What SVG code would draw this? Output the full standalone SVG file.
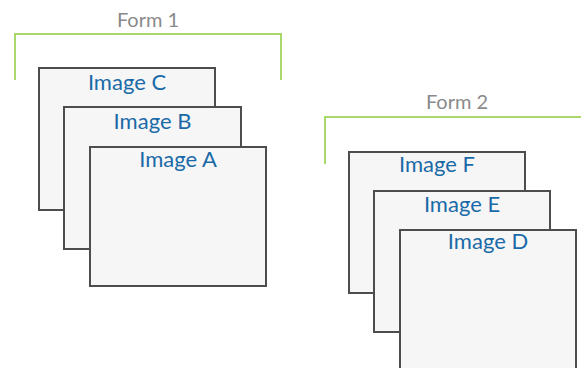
<svg xmlns="http://www.w3.org/2000/svg" width="581" height="368" viewBox="0 0 581 368">
<style>
.img rect{fill:#f6f6f6;stroke:#4d4d4d;stroke-width:2}
.img text{font-family:Lato,"Open Sans","Liberation Sans",sans-serif;font-size:22px;fill:#1a6aa8;text-anchor:middle}
.form path{fill:none;stroke:#a8d86a;stroke-width:2}
.form text{font-family:Lato,"Open Sans","Liberation Sans",sans-serif;font-size:20px;fill:#8a8a8a;text-anchor:middle}
</style>
<rect width="581" height="368" fill="#ffffff"/>
<g id="form1" class="form">
<path d="M15,80 V34 H281 V80"/>
<text x="148" y="27">Form 1</text>
</g>
<g id="imageC" class="img"><rect x="39" y="68" width="176" height="142"/><text x="127" y="90">Image C</text></g>
<g id="imageB" class="img"><rect x="64" y="107" width="177" height="142"/><text x="152.5" y="129">Image B</text></g>
<g id="imageA" class="img"><rect x="90" y="147" width="176" height="139"/><text x="178" y="167">Image A</text></g>
<g id="form2" class="form">
<path d="M325,164 V117 H590"/>
<text x="457" y="109">Form 2</text>
</g>
<g id="imageF" class="img"><rect x="349" y="152" width="176" height="141"/><text x="437" y="172">Image F</text></g>
<g id="imageE" class="img"><rect x="374" y="191" width="176" height="141"/><text x="462" y="212">Image E</text></g>
<g id="imageD" class="img"><rect x="400" y="230" width="176" height="150"/><text x="488" y="249">Image D</text></g>
<g id="connectors"/>
</svg>
